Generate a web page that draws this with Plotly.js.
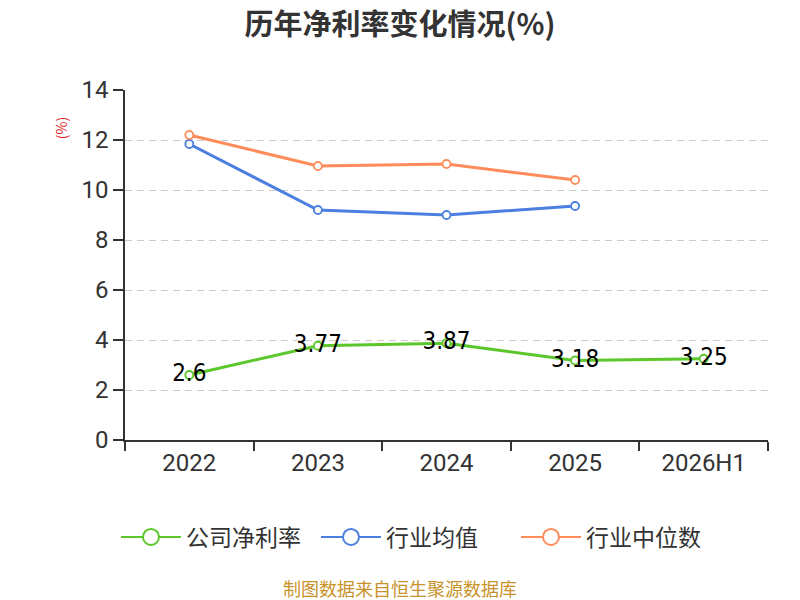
<!DOCTYPE html>
<html>
<head>
<meta charset="utf-8">
<script src="https://cdn.plot.ly/plotly-3.0.1.min.js"></script>
<style>
  html, body { margin: 0; padding: 0; background: #fff; }
  #chart { width: 800px; height: 600px; }
</style>
</head>
<body>
<div id="chart"></div>
<script>
var years = ['2022', '2023', '2024', '2025', '2026H1'];
var companyRate = [2.6, 3.77, 3.87, 3.18, 3.25];
var industryMean = [11.84, 9.2, 9.0, 9.36];
var industryMedian = [12.2, 10.96, 11.04, 10.4];
var names = ['公司净利率', '行业均值', '行业中位数'];
var colors = ['#5cc72a', '#4b7fe0', '#ff8c5a'];

var font = '"Noto Sans CJK SC", "Noto Sans", sans-serif';
var numFont = 'Roboto, "Noto Sans", sans-serif';

function series(i, y, withText) {
    var t = {
        x: years.slice(0, y.length),
        y: y,
        name: names[i],
        type: 'scatter',
        mode: withText ? 'lines+markers+text' : 'lines+markers',
        line: {color: colors[i], width: 3},
        marker: {symbol: 'circle', size: 8, color: '#fff', line: {color: colors[i], width: 1.8}},
        showlegend: false,
        hoverinfo: 'x+y'
    };
    if (withText) {
        t.text = y.map(String);
        t.textposition = 'middle center';
        t.textfont = {family: '"DejaVu Sans Condensed", "Liberation Sans Narrow", sans-serif', size: 24, color: '#000'};
    }
    return t;
}

// legend-only entries so the legend circles can be drawn larger than the plot markers
function legendEntry(i) {
    return {
        x: [null], y: [null],
        name: names[i],
        type: 'scatter',
        mode: 'lines+markers',
        line: {color: colors[i], width: 2},
        marker: {symbol: 'circle', size: 16, color: '#fff', line: {color: colors[i], width: 2}},
        showlegend: true,
        hoverinfo: 'skip'
    };
}

var data = [
    series(0, companyRate, true),
    series(1, industryMean, false),
    series(2, industryMedian, false),
    legendEntry(0), legendEntry(1), legendEntry(2)
];

var layout = {
    width: 800,
    height: 600,
    margin: {l: 125, r: 32, t: 90, b: 160},
    paper_bgcolor: '#fff',
    plot_bgcolor: '#fff',
    font: {family: font, color: '#333'},
    title: {
        text: '<b>历年净利率变化情况(%)</b>',
        font: {family: font, size: 29, color: '#333'},
        x: 0.5, xanchor: 'center', y: 0.958, yanchor: 'middle'
    },
    xaxis: {
        type: 'category',
        range: [-0.5, 4.5],
        showgrid: false,
        showline: true, linecolor: '#333', linewidth: 1.5,
        ticks: 'outside', ticklen: 9, tickcolor: '#333', tickwidth: 1.5,
        tickson: 'boundaries',
        tickfont: {family: numFont, size: 24, color: '#333'},
        zeroline: false,
        fixedrange: true
    },
    yaxis: {
        range: [0, 14],
        dtick: 2,
        showline: true, linecolor: '#333', linewidth: 1.5,
        ticks: 'outside', ticklen: 10, tickcolor: '#333', tickwidth: 1.5,
        tickfont: {family: numFont, size: 24, color: '#333'},
        gridcolor: '#cccccc', griddash: '7px,5px', gridwidth: 1.2,
        zeroline: false,
        fixedrange: true
    },
    legend: {
        orientation: 'h',
        xref: 'container', yref: 'container',
        x: 0.145, xanchor: 'left',
        y: 0.105, yanchor: 'middle',
        font: {family: font, size: 23, color: '#333'},
        entrywidth: 125,
        itemwidth: 60
    },
    annotations: [
        {
            text: '(%)', xref: 'paper', yref: 'paper',
            x: -0.1, y: 0.89, xanchor: 'center', yanchor: 'middle',
            textangle: -90, showarrow: false,
            font: {size: 14, color: '#e0191b'}
        },
        {
            text: '制图数据来自恒生聚源数据库', xref: 'paper', yref: 'paper',
            x: 0.428, y: -0.423, xanchor: 'center', yanchor: 'middle',
            showarrow: false,
            font: {size: 18, color: '#c8922a'}
        }
    ],
    showlegend: true
};

Plotly.newPlot('chart', data, layout, {displayModeBar: false});
</script>
</body>
</html>
